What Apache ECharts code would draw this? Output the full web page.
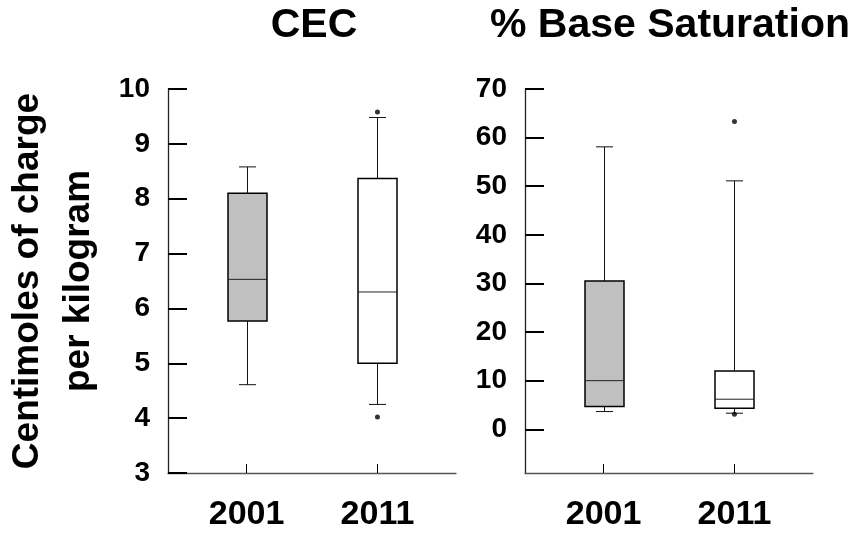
<!DOCTYPE html>
<html>
<head>
<meta charset="utf-8">
<script src="https://cdn.jsdelivr.net/npm/echarts@6/dist/echarts.min.js"></script>
<style>
html,body{margin:0;padding:0;background:#fff;}
#chart{width:859px;height:534px;}
</style>
</head>
<body>
<div id="chart"></div>
<script>
// ---- data ----
const categories = ['2001', '2011'];
const panelTitles = ['CEC', '% Base Saturation'];
const yAxisTitle = 'Centimoles of charge\nper kilogram';
// [min whisker, Q1, median, Q3, max whisker]
const cecStats = [
  [4.61, 5.77, 6.53, 8.10, 8.58],
  [4.25, 5.00, 6.30, 8.37, 9.48]
];
const cecOutliers = [[1, 9.58], [1, 4.02]];
const bsStats = [
  [3.64, 4.66, 10.0, 30.5, 58.1],
  [3.30, 4.32, 6.18, 12.0, 51.1]
];
const bsOutliers = [[1, 63.3], [1, 3.1]];
const cecTicks = [3, 4, 5, 6, 7, 8, 9, 10];
const bsTicks = [0, 10, 20, 30, 40, 50, 60, 70];

// ---- styles ----
const FONT = "'Liberation Sans', Arial, Helvetica, sans-serif";
const boxFills = ['#c0c0c0', '#ffffff'];
const BOX_W = 39, CAP_W = 17;

function boxRender(params, api) {
  const x = api.value(0);
  const pMin = api.coord([x, api.value(1)]);
  const pQ1 = api.coord([x, api.value(2)]);
  const pMed = api.coord([x, api.value(3)]);
  const pQ3 = api.coord([x, api.value(4)]);
  const pMax = api.coord([x, api.value(5)]);
  const cx = Math.round(pMin[0]) + 0.5;
  const hb = BOX_W / 2, hc = CAP_W / 2;
  const ls = { stroke: '#111', lineWidth: 1 };
  return {
    type: 'group',
    children: [
      { type: 'line', shape: { x1: cx, y1: pMax[1], x2: cx, y2: pQ3[1] }, style: ls },
      { type: 'line', shape: { x1: cx, y1: pQ1[1], x2: cx, y2: pMin[1] }, style: ls },
      { type: 'line', shape: { x1: cx - hc, y1: pMax[1], x2: cx + hc, y2: pMax[1] }, style: ls },
      { type: 'line', shape: { x1: cx - hc, y1: pMin[1], x2: cx + hc, y2: pMin[1] }, style: ls },
      { type: 'rect', shape: { x: cx - hb, y: pQ3[1], width: BOX_W, height: pQ1[1] - pQ3[1] },
        style: { fill: boxFills[params.dataIndex], stroke: '#000', lineWidth: 1.5 } },
      { type: 'line', shape: { x1: cx - hb, y1: pMed[1], x2: cx + hb, y2: pMed[1] }, style: { stroke: '#222', lineWidth: 1 } }
    ]
  };
}

function xAxisFor(gi) {
  return {
    type: 'value', gridIndex: gi, min: -0.6, max: 1.6,
    splitLine: { show: false },
    axisLine: { show: true, onZero: false, lineStyle: { color: '#555', width: 1.3 } },
    axisTick: { show: true, inside: true, length: 9, customValues: [0, 1], lineStyle: { color: '#000', width: 1 } },
    axisLabel: {
      customValues: [0, 1], margin: 25,
      formatter: v => categories[Math.round(v)] || '',
      fontFamily: FONT, fontSize: 34, fontWeight: 'bold', color: '#000'
    }
  };
}

function yAxisFor(gi, min, max, ticks, extra) {
  return Object.assign({
    type: 'value', gridIndex: gi, min: min, max: max,
    splitLine: { show: false },
    axisLine: { show: true, onZero: false, lineStyle: { color: '#222', width: 1.3 } },
    axisTick: { show: true, inside: true, length: 19, customValues: ticks, lineStyle: { color: '#000', width: 2 } },
    axisLabel: { customValues: ticks, margin: 18, fontFamily: FONT, fontSize: 28, fontWeight: 'bold', color: '#000' }
  }, extra || {});
}

const chart = echarts.init(document.getElementById('chart'), null, { renderer: 'canvas' });
chart.setOption({
  backgroundColor: '#fff',
  animation: false,
  graphic: [
    { type: 'text', x: 314, y: 26, style: { text: panelTitles[0], fontFamily: FONT, fontSize: 41, fontWeight: 'bold', fill: '#000', align: 'center', verticalAlign: 'middle' } },
    { type: 'text', x: 670, y: 26, style: { text: panelTitles[1], fontFamily: FONT, fontSize: 41, fontWeight: 'bold', fill: '#000', align: 'center', verticalAlign: 'middle' } }
  ],
  grid: [
    { left: 168, top: 89, width: 288, height: 384 },
    { left: 525, top: 89, width: 288, height: 384 }
  ],
  xAxis: [xAxisFor(0), xAxisFor(1)],
  yAxis: [
    yAxisFor(0, 3, 10, cecTicks, {
      name: yAxisTitle, nameLocation: 'middle', nameGap: 64, nameRotate: 90,
      nameTextStyle: { fontFamily: FONT, fontSize: 37, fontWeight: 'bold', color: '#000', lineHeight: 51 }
    }),
    yAxisFor(1, -9, 70, bsTicks)
  ],
  series: [
    { type: 'custom', xAxisIndex: 0, yAxisIndex: 0, renderItem: boxRender,
      encode: { x: 0, y: [1, 2, 3, 4, 5] },
      data: cecStats.map((s, i) => [i].concat(s)) },
    { type: 'scatter', xAxisIndex: 0, yAxisIndex: 0, symbolSize: 5, itemStyle: { color: '#000' }, data: cecOutliers },
    { type: 'custom', xAxisIndex: 1, yAxisIndex: 1, renderItem: boxRender,
      encode: { x: 0, y: [1, 2, 3, 4, 5] },
      data: bsStats.map((s, i) => [i].concat(s)) },
    { type: 'scatter', xAxisIndex: 1, yAxisIndex: 1, symbolSize: 5, itemStyle: { color: '#000' }, data: bsOutliers }
  ]
});
</script>
</body>
</html>
